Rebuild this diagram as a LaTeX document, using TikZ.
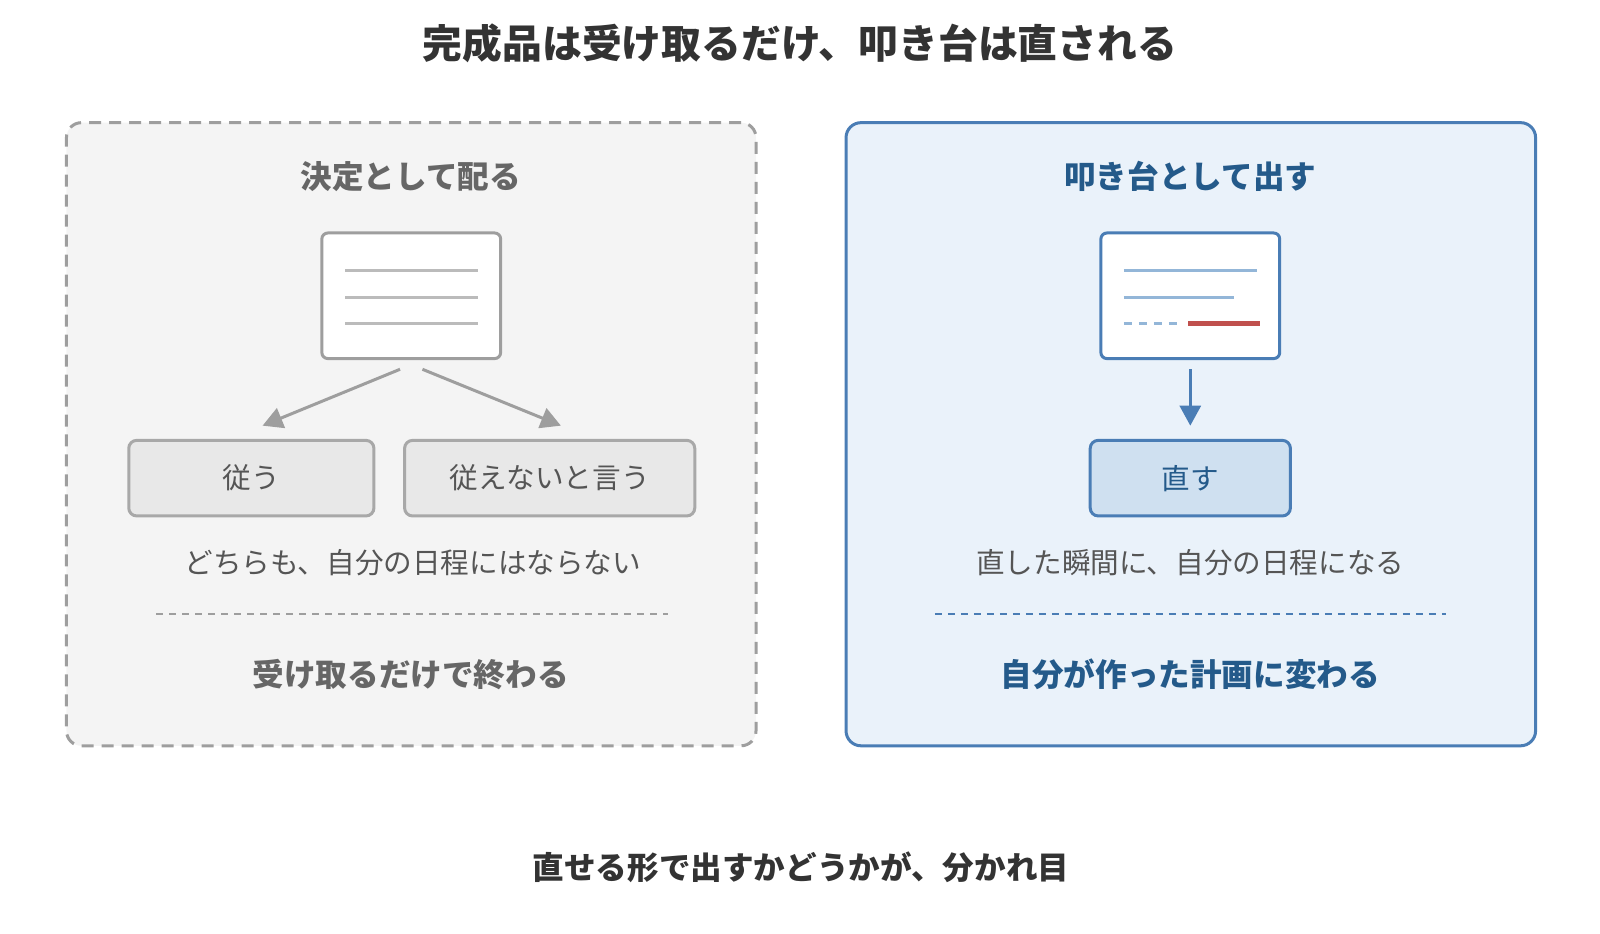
\documentclass[tikz,border=0pt]{standalone}
\usepackage{fontspec}
\setmainfont{Noto Sans CJK JP}
\usetikzlibrary{arrows.meta}

\definecolor{titlegray}{HTML}{333333}
\definecolor{headgray}{HTML}{666666}
\definecolor{textgray}{HTML}{555555}
\definecolor{linegray}{HTML}{9E9E9E}
\definecolor{panelgray}{HTML}{F4F4F4}
\definecolor{boxgray}{HTML}{E8E8E8}
\definecolor{edgegray}{HTML}{A8A8A8}
\definecolor{rulegray}{HTML}{BBBBBB}
\definecolor{mainblue}{HTML}{4A7DB5}
\definecolor{darkblue}{HTML}{245A8A}
\definecolor{panelblue}{HTML}{EAF2FA}
\definecolor{boxblue}{HTML}{CFE0F0}
\definecolor{softblue}{HTML}{93B6D8}
\definecolor{markred}{HTML}{C0504D}

\begin{document}
\begin{tikzpicture}[x=0.5109pt, y=-0.5109pt, >={Triangle[length=10pt, width=10.5pt]}, line width=1.5pt,
	gray panel/.style={draw=linegray, fill=panelgray, dash pattern=on 6pt off 4pt, rounded corners=7.5pt, minimum width=344.8pt, minimum height=311.6pt},
	blue panel/.style={draw=mainblue, fill=panelblue, rounded corners=7.5pt, minimum width=344.8pt, minimum height=311.6pt},
	doc box/.style={draw, fill=white, rounded corners=3pt, minimum width=89.4pt, minimum height=62.8pt},
	choice box/.style={draw, rounded corners=4pt, minimum height=37.8pt, font=\fontsize{14.3}{16}\selectfont},
	head text/.style={font=\fontsize{15.8}{18}\selectfont\bfseries},
	note text/.style={text=textgray, font=\fontsize{14.3}{16}\selectfont}]

	\useasboundingbox (0,0) rectangle (1566,914);

	% Title
	\node[text=titlegray, font=\fontsize{19.9}{22}\selectfont\bfseries] (title) at (783,42) {完成品は受け取るだけ、叩き台は直される};

	% Left panel
	\node[gray panel] (lpanel) at (402.5,425) {};
	\node[head text, text=headgray] (lhead) at (402,173) {決定として配る};
	\node[doc box, draw=linegray] (ldoc) at (402.5,289.5) {};
	\draw[rulegray] (338,265) -- (468,265);
	\draw[rulegray] (338,291) -- (468,291);
	\draw[rulegray] (338,317) -- (468,317);
	\node[choice box, draw=edgegray, fill=boxgray, text=textgray, minimum width=122.6pt] (follow) at (246,468) {従う};
	\node[choice box, draw=edgegray, fill=boxgray, text=textgray, minimum width=145.1pt] (refuse) at (538,468) {従えないと言う};
	\draw[->, linegray] ([xshift=-5.6pt, yshift=-4.6pt]ldoc.south) -- ([xshift=5.6pt, yshift=6.6pt]follow.north);
	\draw[->, linegray] ([xshift=5.6pt, yshift=-4.6pt]ldoc.south) -- ([xshift=5.6pt, yshift=6.6pt]refuse.north);
	\node[note text] (lnote) at (404,551) {どちらも、自分の日程にはならない};
	\draw[linegray, line width=1pt, dash pattern=on 3.5pt off 3pt] (153,601) -- (654,601);
	\node[head text, text=headgray] (lend) at (402,660) {受け取るだけで終わる};

	% Right panel
	\node[blue panel] (rpanel) at (1165.5,425) {};
	\node[head text, text=darkblue] (rhead) at (1165,173) {叩き台として出す};
	\node[doc box, draw=mainblue] (rdoc) at (1165,289.5) {};
	\draw[softblue] (1100,265) -- (1230,265);
	\draw[softblue] (1100,291) -- (1208,291);
	\draw[softblue, dash pattern=on 4pt off 3.5pt] (1100,317) -- (1158,317);
	\draw[markred, line width=2.4pt] (1163,317) -- (1233,317);
	\node[choice box, draw=mainblue, fill=boxblue, text=darkblue, minimum width=100.1pt] (fix) at (1165,468) {直す};
	\draw[->, mainblue] ([yshift=-4.6pt]rdoc.south) -- ([yshift=6.6pt]fix.north);
	\node[note text] (rnote) at (1165,551) {直した瞬間に、自分の日程になる};
	\draw[mainblue, line width=1pt, dash pattern=on 3.5pt off 3pt] (915,601) -- (1415,601);
	\node[head text, text=darkblue] (rend) at (1165,660) {自分が作った計画に変わる};

	% Bottom line
	\node[text=titlegray, font=\fontsize{15.8}{18}\selectfont\bfseries] (moral) at (784,849) {直せる形で出すかどうかが、分かれ目};
\end{tikzpicture}
\end{document}
